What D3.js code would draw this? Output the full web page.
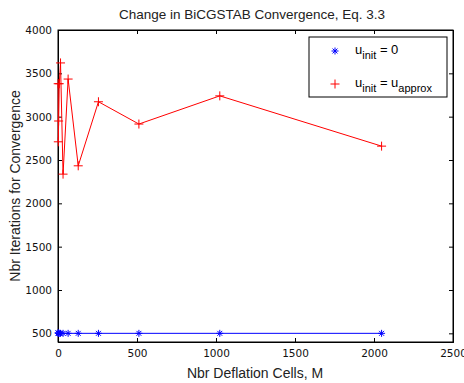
<!DOCTYPE html>
<html><head><meta charset="utf-8">
<script src="https://cdn.jsdelivr.net/npm/d3@7"></script>
<style>body{margin:0;background:#fff}svg{display:block}text{font-family:"Liberation Sans",Arial,sans-serif}</style>
</head><body>
<svg id="c" width="464" height="383"></svg>
<script>
const mValues = [1,2,4,8,16,32,64,128,256,512,1024,2048];
const itersZero = [505,503,500,500,500,500,500,500,500,500,500,500];
const itersApprox = [3380,2710,2950,3380,3620,2337,3434,2433,3172,2915,3240,2660];
const xTicks = [0,500,1000,1500,2000,2500];
const yTicks = [500,1000,1500,2000,2500,3000,3500,4000];

const svg = d3.select("#c");
const L=58, R=453, T=30, B=342;
const x = d3.scaleLinear().domain([0,2500]).range([L,R]);
const y = d3.scaleLinear().domain([400,4000]).range([B,T]);

svg.append("rect").attr("x",L).attr("y",T).attr("width",R-L).attr("height",B-T)
  .attr("fill","#fff").attr("stroke","#000").attr("stroke-width",1);

const xb = svg.append("g").attr("transform",`translate(0,${B})`)
  .call(d3.axisBottom(x).tickValues(xTicks).tickSize(-4).tickPadding(8).tickFormat(d3.format("d")));
const xt = svg.append("g").attr("transform",`translate(0,${T})`)
  .call(d3.axisTop(x).tickValues(xTicks).tickSize(-4).tickFormat(""));
const yl = svg.append("g").attr("transform",`translate(${L},0)`)
  .call(d3.axisLeft(y).tickValues(yTicks).tickSize(-4).tickPadding(6).tickFormat(d3.format("d")));
const yr = svg.append("g").attr("transform",`translate(${R},0)`)
  .call(d3.axisRight(y).tickValues(yTicks).tickSize(-4).tickFormat(""));
[xb,xt,yl,yr].forEach(g=>{g.select(".domain").attr("stroke","#000");g.selectAll(".tick line").attr("stroke","#000");
  g.selectAll("text").attr("fill","#111").style("font-family",'"DejaVu Sans",sans-serif').attr("font-size",10.5);});

const g = svg.append("g");
const line = d3.line().x(d=>x(d[0])).y(d=>y(d[1]));
const blue = mValues.map((m,i)=>[m,itersZero[i]]);
const red = mValues.map((m,i)=>[m,itersApprox[i]]);
g.append("path").attr("d",line(blue)).attr("fill","none").attr("stroke","#0000ff").attr("stroke-width",1);
g.append("path").attr("d",line(red)).attr("fill","none").attr("stroke","#ff0000").attr("stroke-width",1);

function star(sel,cx,cy,s,col){
  const a=sel.append("g").attr("stroke",col).attr("stroke-width",1);
  a.append("line").attr("x1",cx-s).attr("x2",cx+s).attr("y1",cy).attr("y2",cy);
  a.append("line").attr("x1",cx).attr("x2",cx).attr("y1",cy-s).attr("y2",cy+s);
  const d=s*0.7;
  a.append("line").attr("x1",cx-d).attr("x2",cx+d).attr("y1",cy-d).attr("y2",cy+d);
  a.append("line").attr("x1",cx-d).attr("x2",cx+d).attr("y1",cy+d).attr("y2",cy-d);
}
function plus(sel,cx,cy,s,col){
  const a=sel.append("g").attr("stroke",col).attr("stroke-width",1);
  a.append("line").attr("x1",cx-s).attr("x2",cx+s).attr("y1",cy).attr("y2",cy);
  a.append("line").attr("x1",cx).attr("x2",cx).attr("y1",cy-s).attr("y2",cy+s);
}
blue.forEach(d=>star(g,x(d[0]),y(d[1]),3.5,"#0000ff"));
red.forEach(d=>plus(g,x(d[0]),y(d[1]),4.5,"#ff0000"));

const lg = svg.append("g");
lg.append("rect").attr("x",309).attr("y",37).attr("width",138).attr("height",60).attr("fill","#fff").attr("stroke","#000");
star(lg,335,51,3.5,"#0000ff");
plus(lg,335,84,4.5,"#ff0000");
const lt1 = lg.append("text").attr("x",355).attr("y",54).attr("font-size",13).attr("fill","#000");
lt1.append("tspan").text("u");
lt1.append("tspan").attr("dy",5).attr("font-size",11).text("init");
lt1.append("tspan").attr("dy",-5).text(" = 0");
const lt2 = lg.append("text").attr("x",355).attr("y",87).attr("font-size",13).attr("fill","#000");
lt2.append("tspan").text("u");
lt2.append("tspan").attr("dy",5).attr("font-size",11).text("init");
lt2.append("tspan").attr("dy",-5).text(" = u");
lt2.append("tspan").attr("dy",5).attr("font-size",11).text("approx");

svg.append("text").attr("x",252).attr("y",19).attr("text-anchor","middle").attr("font-size",13.5).attr("fill","#222")
  .text("Change in BiCGSTAB Convergence, Eq. 3.3");
svg.append("text").attr("x",255).attr("y",378).attr("text-anchor","middle").attr("font-size",14).attr("fill","#222")
  .text("Nbr Deflation Cells, M");
svg.append("text").attr("transform","translate(20,186) rotate(-90)").attr("text-anchor","middle").attr("font-size",14).attr("fill","#222")
  .text("Nbr Iterations for Convergence");
</script>
</body></html>
